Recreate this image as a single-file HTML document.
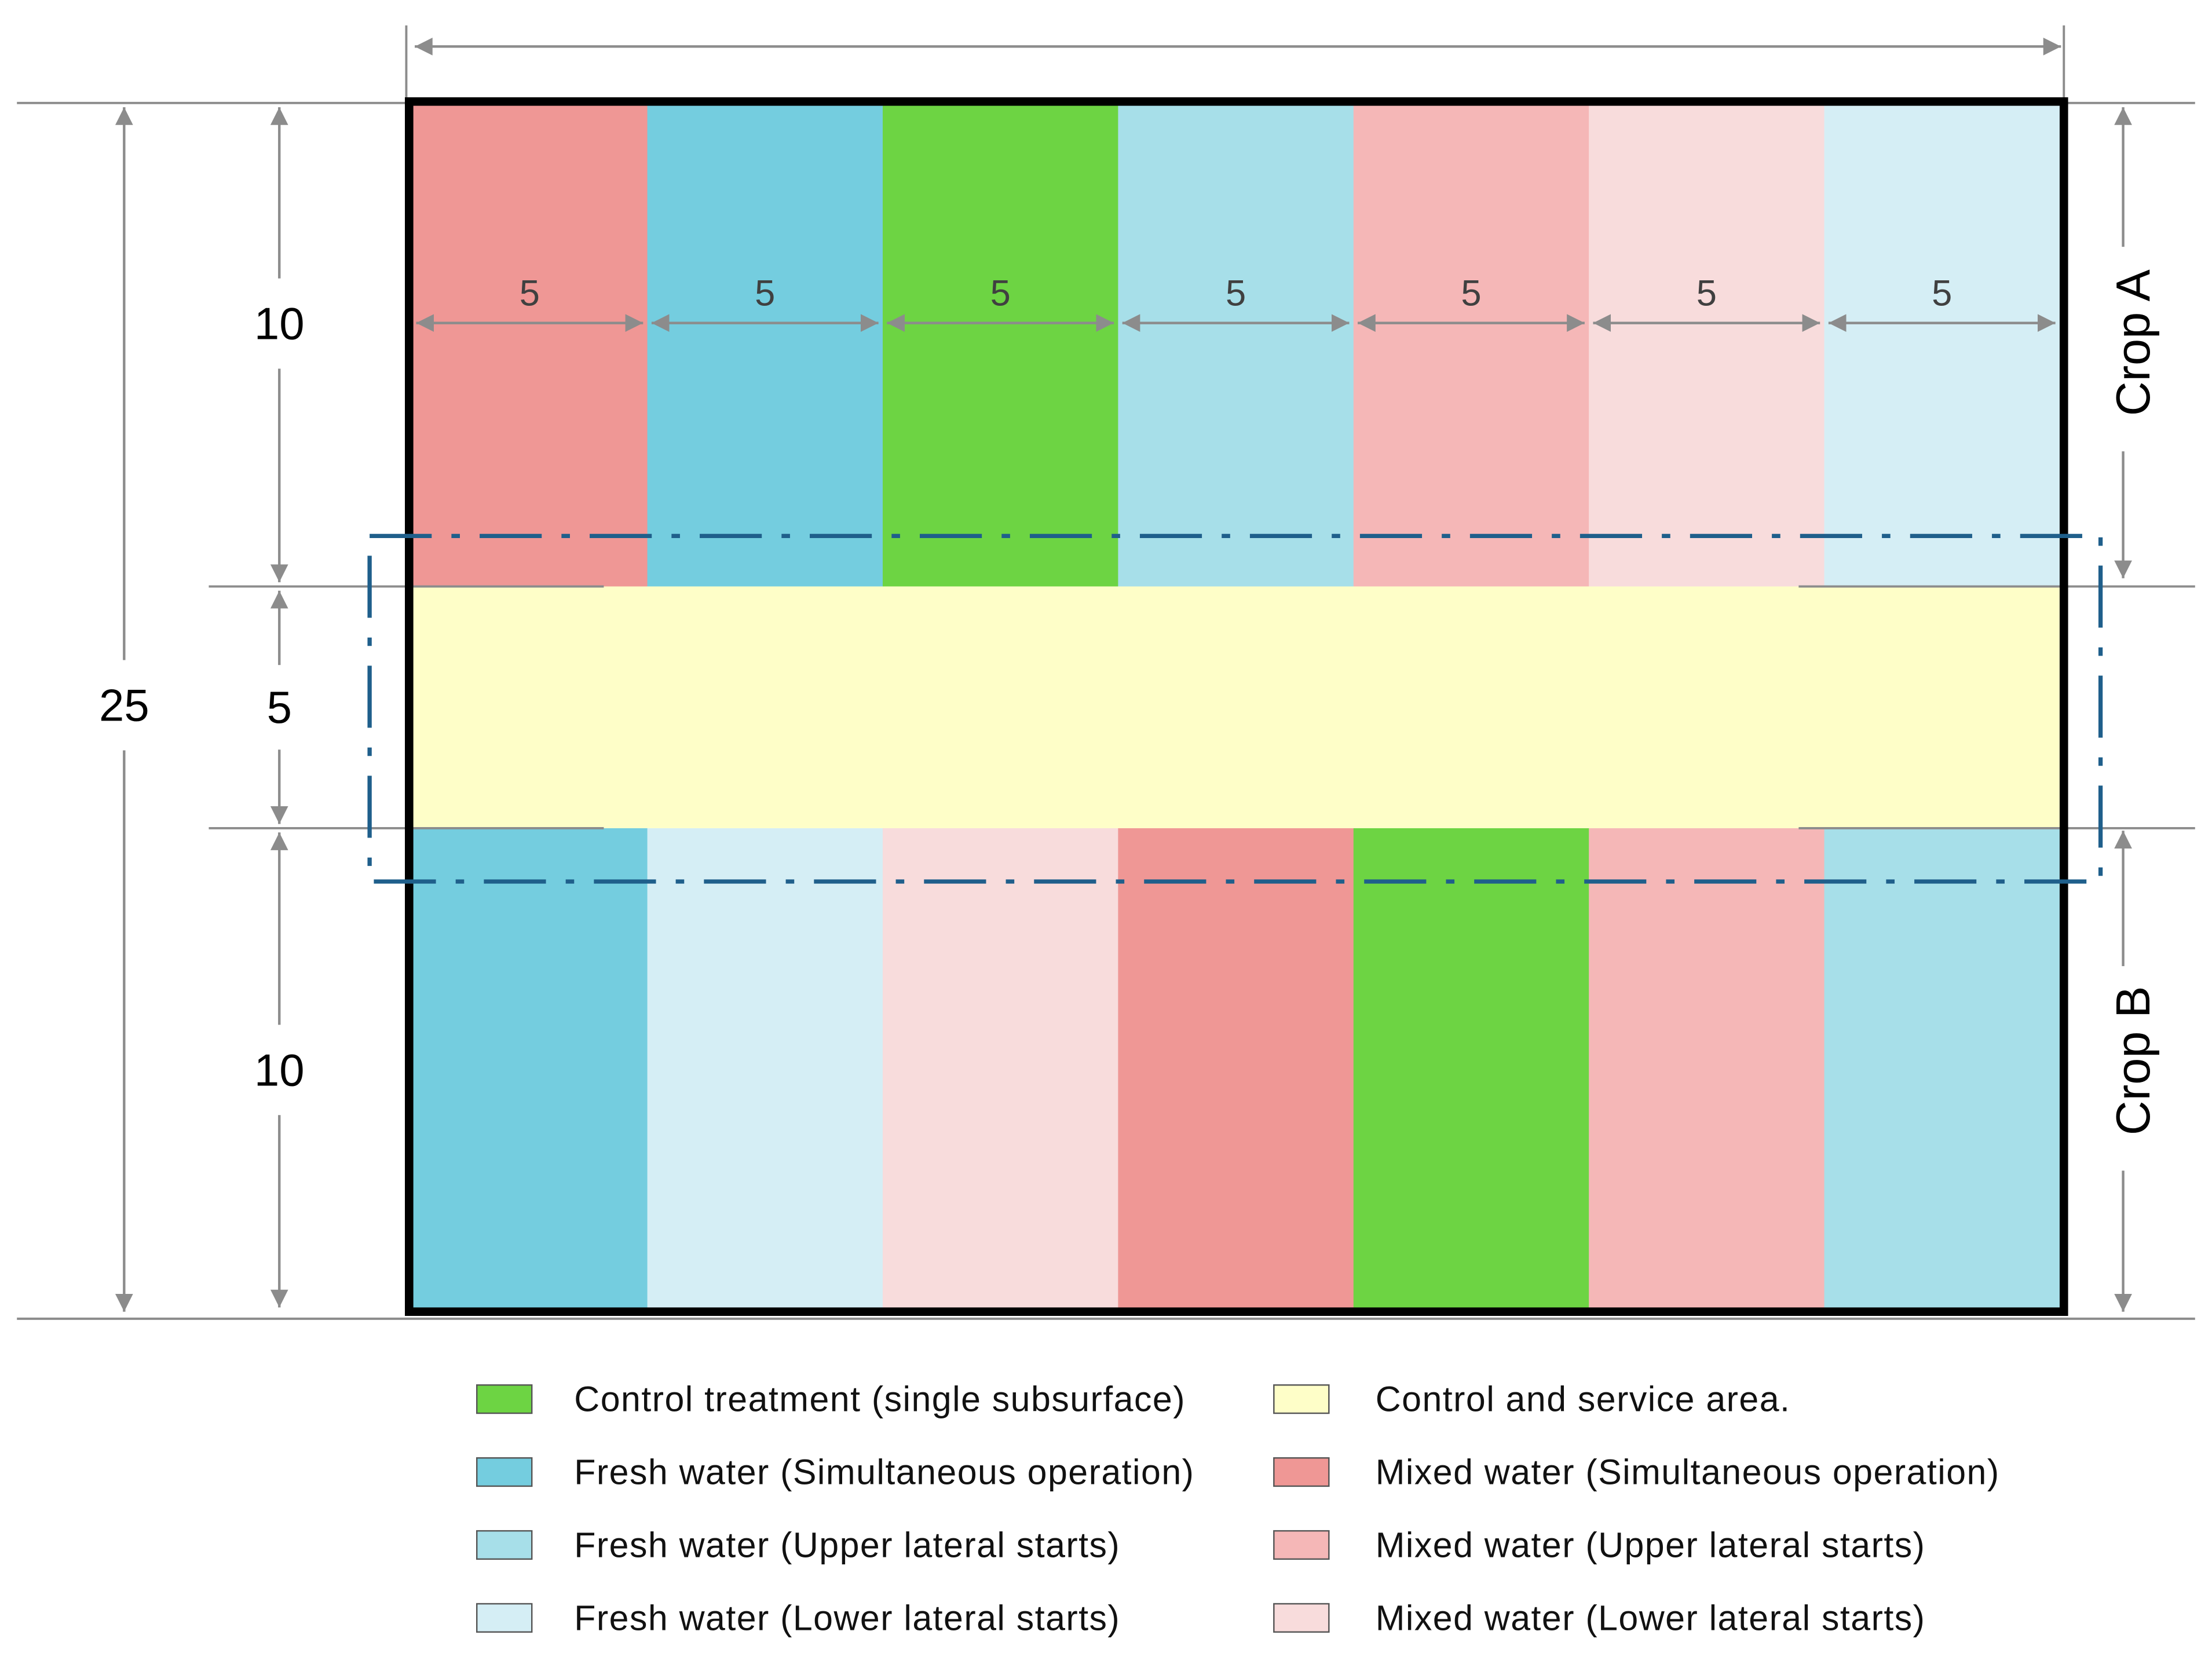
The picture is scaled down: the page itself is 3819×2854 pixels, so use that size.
<!DOCTYPE html>
<html><head><meta charset="utf-8"><style>
html,body{margin:0;padding:0;background:#fff;}
svg{display:block;}
text{font-family:"Liberation Sans",sans-serif;}
</style></head><body>
<svg id="chart" width="3819" height="2854" viewBox="0 0 1568 1172" preserveAspectRatio="none" xmlns="http://www.w3.org/2000/svg">
<defs>
<marker id="ah" viewBox="0 0 10 10" refX="10" refY="5" markerWidth="7" markerHeight="7" orient="auto-start-reverse"><path d="M0,0 L10,5 L0,10 z" fill="#8c8c8c"/></marker>
</defs>
<g id="plots"></g>
<g id="dims"></g>
<g id="legend"></g>
</svg>
<script>
const topColors=["#EF9795","#74CDDF","#6DD443","#A7DFE9","#F5B7B7","#F8DCDC","#D5EEF5"];
const bottomColors=["#74CDDF","#D5EEF5","#F8DCDC","#EF9795","#6DD443","#F5B7B7","#A7DFE9"];
const plotWidths=[5,5,5,5,5,5,5];
const rowHeights=[10,5,10];
const legendLabels=["Control treatment (single subsurface)","Fresh water (Simultaneous operation)","Fresh water (Upper lateral starts)","Fresh water (Lower lateral starts)","Control and service area.","Mixed water (Simultaneous operation)","Mixed water (Upper lateral starts)","Mixed water (Lower lateral starts)"];
const legendColors=["#6DD443","#74CDDF","#A7DFE9","#D5EEF5","#FEFEC8","#EF9795","#F5B7B7","#F8DCDC"];

const NS="http://www.w3.org/2000/svg";
function mk(tag,attrs,parent){const e=document.createElementNS(NS,tag);for(const k in attrs)e.setAttribute(k,attrs[k]);parent.appendChild(e);return e;}
const X0=292,X1=1460,Y0=73,Y1=930;
const totalW=plotWidths.reduce((a,b)=>a+b,0);
const totalH=rowHeights.reduce((a,b)=>a+b,0);
const sx=v=>X0+v/totalW*(X1-X0);
const sy=v=>Y0+v/totalH*(Y1-Y0);
const plots=document.getElementById('plots');
const dims=document.getElementById('dims');
const legend=document.getElementById('legend');
const yA=sy(rowHeights[0]), yB=sy(rowHeights[0]+rowHeights[1]);

let acc=0;
plotWidths.forEach((w,i)=>{
  const r1=mk('rect',{x:sx(acc),y:Y0,width:sx(acc+w)-sx(acc)+0.5,height:yA-Y0,fill:topColors[i]},plots);
  
  
  const r2=mk('rect',{x:sx(acc),y:yB,width:sx(acc+w)-sx(acc)+0.5,height:Y1-yB,fill:bottomColors[i]},plots);
  
  
  acc+=w;
});
const band=mk('rect',{x:X0,y:yA,width:X1-X0,height:yB-yA,fill:"#FEFEC8"},plots);



const g='#8c8c8c';
[[12,Y0,1556,Y0],[148,yA,428,yA],[1275,yA,1556,yA],[148,yB,428,yB],[1275,yB,1556,yB],[12,935,1556,935],[288,18,288,72],[1463,18,1463,72]].forEach(l=>{
  const e=mk('line',{x1:l[0],y1:l[1],x2:l[2],y2:l[3],stroke:g,'stroke-width':1.6},dims);
  
  
});
const b=mk('path',{d:`M${X0-2},${Y0-1} L${X1+3},${Y0-1} L${X1+3},${Y1} L${X0-2},${Y1} Z`,fill:'none',stroke:'#000','stroke-width':6},dims);


const dd=mk('rect',{x:262,y:380,width:1227,height:245,fill:'none',stroke:'#1F5F8B','stroke-width':3,'stroke-dasharray':'44 14 6 14'},dims);



function arrow(x1,y1,x2,y2,name){const e=mk('line',{x1,y1,x2,y2,stroke:g,'stroke-width':1.8,'marker-start':'url(#ah)','marker-end':'url(#ah)'},dims);return e;}
function txt(x,y,s,size,name,fill,rot){const e=mk('text',{x,y,'font-size':size,'text-anchor':'middle','dominant-baseline':'central',fill:fill||'#000'},dims);if(rot)e.setAttribute('transform',`rotate(-90 ${x} ${y})`);e.textContent=s;return e;}

arrow(294,33,1461,33,'total-width-arrow');
arrow(88,76,88,930,'total-length-arrow');
mk('rect',{x:70,y:468,width:36,height:64,fill:'#fff'},dims);
txt(88,500,String(totalH),32,'total-length-label');
let ya=0;
const labelOffsets=[-15,0,0];
rowHeights.forEach((h,i)=>{
  const a=sy(ya)+3,bb=sy(ya+h)-3;
  arrow(198,a,198,bb,'row-height-arrow-'+(i+1));
  const m=(sy(ya)+sy(ya+h))/2+labelOffsets[i];
  const gap=i===1?30:32;
  mk('rect',{x:178,y:m-gap,width:40,height:gap*2,fill:'#fff'},dims);
  txt(198,m,String(h),32,'row-height-label-'+(i+1));
  ya+=h;
});
arrow(1505,76,1505,410,'crop-a-arrow');
mk('rect',{x:1488,y:175,width:36,height:145,fill:'#fff'},dims);
txt(1512,243,'Crop A',34,'crop-a-label','#000',true);
arrow(1505,589,1505,930,'crop-b-arrow');
mk('rect',{x:1488,y:685,width:36,height:145,fill:'#fff'},dims);
txt(1512,752,'Crop B',34,'crop-b-label','#000',true);
acc=0;
plotWidths.forEach((w,i)=>{
  arrow(sx(acc)+3,229,sx(acc+w)-3,229,'plot-width-arrow-'+(i+1));
  txt((sx(acc)+sx(acc+w))/2,208,String(w),26,'plot-width-label-'+(i+1),'#404040');
  acc+=w;
});
legendLabels.forEach((lab,i)=>{
  const col=Math.floor(i/4),row=i%4;
  const x=col?903:338, y=992+row*51.7;
  const r=mk('rect',{x,y:y-10,width:39,height:20,fill:legendColors[i],stroke:'#555','stroke-width':1},legend);
  
  
  const t=mk('text',{x:col?975:407,y,'font-size':25,'letter-spacing':0.6,'dominant-baseline':'central',fill:'#111'},legend);
  t.textContent=lab;
  
  
});
</script>
</body></html>
